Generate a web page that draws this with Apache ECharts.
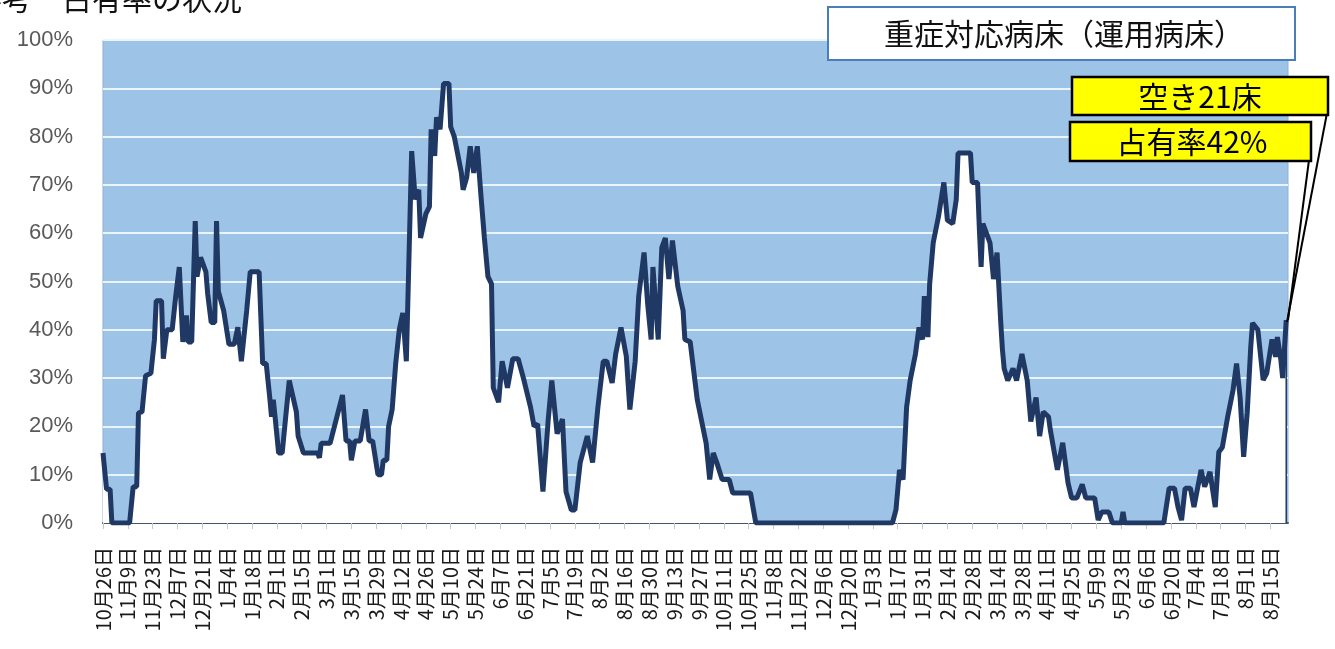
<!DOCTYPE html>
<html><head><meta charset="utf-8">
<script src="https://cdn.jsdelivr.net/npm/echarts@6/dist/echarts.min.js"></script>
<style>html,body{margin:0;padding:0;background:#fff}#c{width:1335px;height:649px}</style>
</head><body><div id="c"></div>
<script>
// day offsets counted from 2020-10-26
const START = [2020, 9, 26];
const DAYS = [0,2,4,5,15,17,19,20,22,24,27,29,30,33,34,36,39,41,43,45,47,48,50,52,53,55,56,58,59,61,63,64,65,68,71,74,76,78,79,81,83,88,90,92,94,95,96,97,99,101,105,109,110,113,121,122,123,128,135,137,139,140,142,145,148,150,152,155,157,158,160,161,163,165,167,169,171,174,176,178,179,182,184,185,187,188,190,192,195,196,198,202,203,205,206,207,209,211,213,215,217,219,220,223,225,228,231,234,237,241,243,245,248,251,253,256,259,261,264,266,269,273,276,279,282,284,287,289,292,295,297,300,302,305,307,309,310,313,315,317,319,321,324,327,328,331,335,340,342,344,346,349,353,355,365,368,445,447,449,451,453,455,458,460,462,463,465,466,468,471,474,476,479,481,482,489,490,493,494,495,496,500,502,504,506,507,508,510,513,515,518,521,523,526,528,530,533,534,538,541,544,546,549,552,554,559,561,563,567,569,574,575,576,598,601,604,606,608,610,613,615,619,621,624,627,629,631,634,637,639,641,643,645,647,648,651,654,656,659,661,662,664,665,667];
const RATES = [14.5,7,7,0,0,7.5,7.5,22.8,23,30.5,31,38,46,46,34,40,40,47,53,37.5,43,37.5,37.5,62.5,51,55,55,52,47.5,41.5,41.5,62.5,48,44,37,37,40.5,33.5,33.5,44,52,52,33,33,26,22,25.5,22,14.5,14.5,29.5,23,18,14.5,14.5,13.5,16.5,16.5,26.5,17,17,13,17,17,23.5,17,17,10,10,13,13,20,23.5,33,40,43.5,33.5,77,67,69,59,64,65.5,81.5,76,84,81.5,91,91,82,80,72.5,69,71.5,71.5,78,72.5,78,68,59,51,49.5,28,25,33.5,28,34,34,30,24,20,20.5,6.5,21.5,29.5,18.5,21.5,6.5,2.7,2.7,12.5,18,12.5,24,33.5,33.5,29,35,40.5,34.5,23.5,33.5,47,56,45.5,38,53,38,57,59,50.5,58.5,49,44,38,37.5,25.5,16.5,9,14.5,12.5,9,9,6.2,6.2,0,0,2.7,11,9,24,29.5,35,40.5,38,47,38.5,49.5,58,63.5,70.5,62.7,62,67,76.6,76.6,70.5,70.5,61,53,62,58,50.5,56,42,36,32,29.5,32,29.5,35,29.5,21,26,18,23,22,19.3,11,16.6,8.3,5.2,5.2,8,5.2,5.2,0.6,2.3,2.3,0,0,2.3,0,0,7.2,7.2,3.3,0.6,7.2,7.2,3.3,11,7.5,10.6,3.3,14.7,15.7,22,27.5,33,26,13.7,22.8,36.4,41.4,40,29.6,31,38,34.4,38.5,33.7,30,42];
const Y_TICKS = [0,10,20,30,40,50,60,70,80,90,100];
const TITLE = '参考　占有率の状況';
const BOX_TITLE = '重症対応病床（運用病床）';
const NOTE1 = '空き21床';
const NOTE2 = '占有率42%';

const series = DAYS.map((d, i) => [d, RATES[i]]);
const last = series[series.length - 1];
const base = Date.UTC(START[0], START[1], START[2]);
function dayLabel(v) {
  if (v % 14 !== 0) return '';
  const dt = new Date(base + v * 86400000);
  return (dt.getUTCMonth() + 1) + '月' + dt.getUTCDate() + '日';
}

const chart = echarts.init(document.getElementById('c'));
chart.setOption({
  animation: false,
  backgroundColor: '#ffffff',
  grid: { left: 103, right: 47, top: 40, bottom: 126, show: true, backgroundColor: '#9DC3E6', borderColor: '#8DB0D3', borderWidth: 1 },
  xAxis: {
    type: 'value', min: 0, max: 668, interval: 14,
    axisLine: { show: true, lineStyle: { color: '#44546A', width: 2 } },
    axisTick: { show: true, length: 6, lineStyle: { color: '#C8C8C8' } },
    splitLine: { show: false },
    axisLabel: { rotate: 90, margin: 24, fontSize: 20, color: '#1a1a1a', fontFamily: 'Noto Sans CJK JP', formatter: dayLabel, showMaxLabel: false }
  },
  yAxis: {
    type: 'value', min: Y_TICKS[0], max: Y_TICKS[Y_TICKS.length - 1], interval: 10,
    axisLine: { show: false }, axisTick: { show: false },
    splitLine: { show: true, lineStyle: { color: '#EAF4FC', width: 2 } },
    axisLabel: { margin: 30, fontSize: 22, color: '#595959', fontFamily: 'Liberation Sans', formatter: '{value}%' }
  },
  series: [
    { type: 'line', data: series, symbol: 'none', lineStyle: { color: '#1F3864', width: 5 }, areaStyle: { color: '#ffffff', opacity: 1 }, z: 3 },
    { type: 'line', data: [last, [last[0], 0]], symbol: 'none', lineStyle: { color: '#1F3864', width: 1.5 }, z: 4 }
  ],
  graphic: [
    { type: 'text', left: -28, top: -16, style: { text: TITLE, fontSize: 30, fill: '#111', fontFamily: 'Noto Sans CJK JP' } },
    { type: 'rect', shape: { x: 828, y: 7, width: 467, height: 53 }, style: { fill: '#ffffff', stroke: '#4A7EBB', lineWidth: 2 }, z: 10 },
    { type: 'text', x: 1064, y: 34, style: { text: BOX_TITLE, fontSize: 30, fill: '#111', fontFamily: 'Noto Sans CJK JP', align: 'center', verticalAlign: 'middle' }, z: 11 },
    { type: 'line', shape: { x1: 1327, y1: 113, x2: 1287, y2: 322 }, style: { stroke: '#000', lineWidth: 2 }, z: 10 },
    { type: 'line', shape: { x1: 1309, y1: 160, x2: 1288, y2: 320 }, style: { stroke: '#000', lineWidth: 2 }, z: 10 },
    { type: 'rect', shape: { x: 1072, y: 77, width: 256, height: 38 }, style: { fill: '#FFFF00', stroke: '#000', lineWidth: 2.5 }, z: 11 },
    { type: 'text', x: 1200, y: 97, style: { text: NOTE1, fontSize: 30, fill: '#000', fontFamily: 'Noto Sans CJK JP', align: 'center', verticalAlign: 'middle' }, z: 12 },
    { type: 'rect', shape: { x: 1070, y: 122, width: 241, height: 39 }, style: { fill: '#FFFF00', stroke: '#000', lineWidth: 2.5 }, z: 11 },
    { type: 'text', x: 1192, y: 142, style: { text: NOTE2, fontSize: 30, fill: '#000', fontFamily: 'Noto Sans CJK JP', align: 'center', verticalAlign: 'middle' }, z: 12 }
  ]
});
</script></body></html>
